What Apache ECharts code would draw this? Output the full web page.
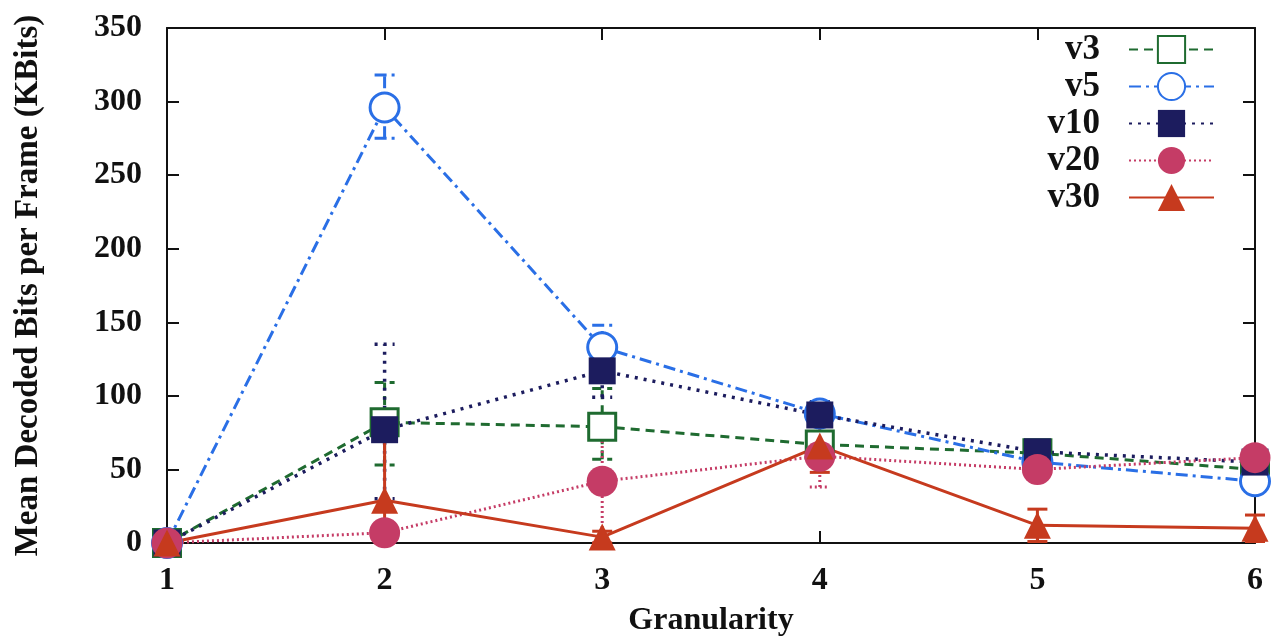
<!DOCTYPE html>
<html>
<head>
<meta charset="utf-8">
<script src="https://cdn.jsdelivr.net/npm/echarts@6/dist/echarts.min.js"></script>
<style>html,body{margin:0;padding:0;background:#fff}#c{width:1276px;height:643px}</style>
</head>
<body>
<div id="c"></div>
<script>
// ---- data ----
const granularity = [1, 2, 3, 4, 5, 6];
const seriesNames = ['v3', 'v5', 'v10', 'v20', 'v30'];
const v3 = [0, 82, 79, 67, 61, 50];
const v5 = [0, 296, 133, 88, 55, 42];
const v10 = [0, 77, 117, 87, 62, 55];
const v20 = [0, 7, 42, 59, 50, 58];
const v30 = [0, 29, 4, 66, 12, 10];
const v3Lo = [0, 53, 57, 62, 58, 47];
const v3Hi = [0, 109, 105, 72, 64, 53];
const v5Lo = [0, 275, 119, 84, 52, 40];
const v5Hi = [0, 318, 148, 92, 58, 45];
const v10Lo = [0, 30, 99, 80, 58, 52];
const v10Hi = [0, 135, 125, 96, 66, 58];
const v20Lo = [0, 0, 0, 38, 47, 54];
const v20Hi = [0, 12, 85, 66, 53, 62];
const v30Lo = [0, 0, 0, 48, 1, 1];
const v30Hi = [0, 70, 8, 81, 23, 19];
const yTicks = [0, 50, 100, 150, 200, 250, 300, 350];

// ---- styles ----
const styles = {
  v3:  {color: '#1f6b30', dash: [9, 6], width: 3, symbol: 'rect', size: 27, hollow: true},
  v5:  {color: '#2a6fe6', dash: [12, 5, 3, 5], width: 3, symbol: 'circle', size: 29, hollow: true},
  v10: {color: '#1c1c5e', dash: [3, 6], width: 3.5, symbol: 'rect', size: 27, hollow: false},
  v20: {color: '#c53c66', dash: [2, 3], width: 3, symbol: 'circle', size: 31, hollow: false},
  v30: {color: '#c63a1e', dash: 'solid', width: 3, symbol: 'triangle', size: 27, hollow: false}
};
const values = {v3, v5, v10, v20, v30};
const lows = {v3: v3Lo, v5: v5Lo, v10: v10Lo, v20: v20Lo, v30: v30Lo};
const highs = {v3: v3Hi, v5: v5Hi, v10: v10Hi, v20: v20Hi, v30: v30Hi};

const font = '"Liberation Serif", "DejaVu Serif", serif';
const series = [];
seriesNames.forEach(name => {
  const s = styles[name];
  const errData = granularity.map((g, i) => [g, lows[name][i], highs[name][i]]);
  series.push({
    type: 'custom',
    name: name + ' error',
    data: errData,
    silent: true,
    z: 2,
    renderItem: function (params, api) {
      const x = api.value(0);
      const lo = api.coord([x, api.value(1)]);
      const hi = api.coord([x, api.value(2)]);
      const cw = 10;
      const st = {stroke: s.color, lineWidth: s.width, lineDash: s.dash === 'solid' ? null : s.dash, fill: null};
      return {
        type: 'group',
        children: [
          {type: 'line', shape: {x1: lo[0], y1: lo[1], x2: hi[0], y2: hi[1]}, style: st},
          {type: 'line', shape: {x1: lo[0] - cw, y1: lo[1], x2: lo[0] + cw, y2: lo[1]}, style: st},
          {type: 'line', shape: {x1: hi[0] - cw, y1: hi[1], x2: hi[0] + cw, y2: hi[1]}, style: st}
        ]
      };
    }
  });
  series.push({
    type: 'line',
    name: name,
    color: s.color,
    data: granularity.map((g, i) => [g, values[name][i]]),
    symbol: s.symbol,
    symbolSize: s.size,
    showAllSymbol: true,
    z: 3,
    lineStyle: {color: s.color, width: s.width, type: s.dash},
    itemStyle: s.hollow ? {color: '#ffffff', opacity: 1, borderColor: s.color, borderWidth: 3}
                        : {color: s.color, borderWidth: 0},
    emphasis: {disabled: true},
    animation: false
  });
});

const chart = echarts.init(document.getElementById('c'), null, {renderer: 'canvas'});
chart.setOption({
  animation: false,
  backgroundColor: '#ffffff',
  grid: {left: 167, right: 21, top: 28, bottom: 100, containLabel: false},
  legend: {
    data: seriesNames.map(n => ({name: n})),
    orient: 'vertical',
    right: 56,
    top: 27,
    align: 'right',
    itemWidth: 85,
    itemHeight: 34,
    itemGap: 2,
    selectedMode: false,
    textStyle: {fontFamily: font, fontWeight: 'bold', fontSize: 35, color: '#111', lineHeight: 34, padding: [0, 24, 0, 0]}
  },
  xAxis: [{
    type: 'value', min: 1, max: 6, interval: 1,
    name: 'Granularity', nameLocation: 'middle', nameGap: 62,
    nameTextStyle: {fontFamily: font, fontWeight: 'bold', fontSize: 32, color: '#111'},
    axisLine: {onZero: false, lineStyle: {color: '#111', width: 2}},
    axisTick: {inside: true, length: 12, lineStyle: {color: '#111', width: 2}},
    axisLabel: {fontFamily: font, fontWeight: 'bold', fontSize: 32, color: '#111', margin: 22},
    splitLine: {show: false}
  }, {
    type: 'value', min: 1, max: 6, interval: 1, position: 'top',
    axisLine: {onZero: false, lineStyle: {color: '#111', width: 2}},
    axisTick: {inside: true, length: 12, lineStyle: {color: '#111', width: 2}},
    axisLabel: {show: false}, splitLine: {show: false}
  }],
  yAxis: [{
    type: 'value', min: 0, max: 350, interval: 50,
    name: 'Mean Decoded Bits per Frame (KBits)', nameLocation: 'middle', nameGap: 122,
    nameTextStyle: {fontFamily: font, fontWeight: 'bold', fontSize: 33, color: '#111'},
    axisLine: {show: true, lineStyle: {color: '#111', width: 2}},
    axisTick: {show: true, inside: true, length: 12, lineStyle: {color: '#111', width: 2}},
    axisLabel: {fontFamily: font, fontWeight: 'bold', fontSize: 32, color: '#111', margin: 25,
      formatter: v => yTicks.includes(v) ? String(v) : ''},
    splitLine: {show: false}
  }, {
    type: 'value', min: 0, max: 350, interval: 50, position: 'right',
    axisLine: {show: true, lineStyle: {color: '#111', width: 2}},
    axisTick: {show: true, inside: true, length: 12, lineStyle: {color: '#111', width: 2}},
    axisLabel: {show: false}, splitLine: {show: false}
  }],
  series: series
});
</script>
</body>
</html>
